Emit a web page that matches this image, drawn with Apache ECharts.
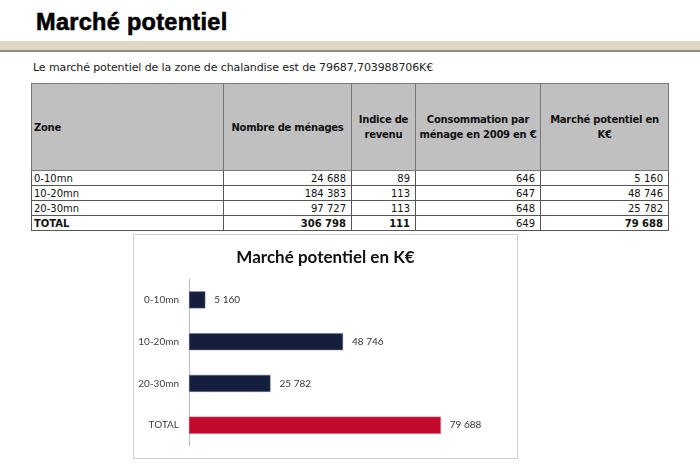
<!DOCTYPE html>
<html>
<head>
<meta charset="UTF-8">
<title>Marché potentiel</title>
<script type="text/javascript" src="https://cdn.jsdelivr.net/npm/echarts@6/dist/echarts.min.js"></script>
<style>
  body{margin:0;background:#fff;font-family:"DejaVu Sans",sans-serif;color:#111}
  #page{position:relative;width:700px;height:473px;overflow:hidden}
  #titre{position:absolute;left:36px;top:9px;font:bold 23.5px "Liberation Sans",Arial,sans-serif;color:#000;letter-spacing:0.3px;-webkit-text-stroke:0.6px #000}
  #bande{position:absolute;left:0;top:41px;width:700px;height:9px;background:#ddd7c4;border-bottom:2px solid #8a8a8a}
  #intro{position:absolute;left:33px;top:61px;font-size:11px;color:#222;letter-spacing:-0.1px}
  #tab{position:absolute;left:31px;top:83px;border-collapse:collapse;font-size:10px;border:1.5px solid #444}
  #tab th{background:#c0c0c0;font-weight:bold;height:86px;border:1px solid #777;padding:0 1px;vertical-align:middle;line-height:15px;letter-spacing:-0.25px}
  #tab td{height:14px;border:1px solid #555;padding:0 5px;line-height:13px;text-align:right}
  #tab td.z{text-align:left;padding-left:2px}
  #tab tr.tot td{font-weight:bold}
  #tab tr.tot td.nb{font-weight:normal}
  #main{position:absolute;left:133px;top:234px;width:383px;height:223px;border:1px solid #cfcfcf}
</style>
</head>
<body>
<div id="page">
  <div id="titre">Marché potentiel</div>
  <div id="bande"></div>
  <div id="intro">Le marché potentiel de la zone de chalandise est de 79687,703988706K€</div>
  <table id="tab">
    <thead><tr>
      <th style="width:188px;text-align:left;padding-left:2px">Zone</th>
      <th style="width:125px">Nombre de ménages</th>
      <th style="width:61px">Indice de revenu</th>
      <th style="width:122px">Consommation par ménage en 2009 en €</th>
      <th style="width:125px">Marché potentiel en<br>K€</th>
    </tr></thead>
    <tbody id="corps"></tbody>
  </table>
  <div id="main"></div>
</div>
<script type="text/javascript">
var zones = ['0-10mn', '10-20mn', '20-30mn', 'TOTAL'];
var menages = [24688, 184383, 97727, 306798];
var indice = [89, 113, 113, 111];
var conso = [646, 647, 648, 649];
var marche = [5160, 48746, 25782, 79688];

function fmt(v){
	return String(Math.round(v)).replace(/\B(?=(\d{3})+(?!\d))/g, ' ');
}

// le tableau
var corps = document.getElementById('corps');
for (var i = 0; i < zones.length; i++) {
	var tr = document.createElement('tr');
	if (zones[i] == 'TOTAL') tr.className = 'tot';
	tr.innerHTML = '<td class="z">' + zones[i] + '</td>' +
		'<td>' + fmt(menages[i]) + '</td>' +
		'<td>' + indice[i] + '</td>' +
		'<td class="nb">' + conso[i] + '</td>' +
		'<td>' + fmt(marche[i]) + '</td>';
	corps.appendChild(tr);
}

// le graphique
var myEcharts = echarts.init(document.getElementById('main'));
var option = {
	animation: false,
	title: {
		text: 'Marché potentiel en K€',
		left: 'center',
		top: 9,
		textStyle: {fontFamily: 'Lato', fontSize: 17, fontWeight: 'bold', color: '#111'}
	},
	grid: {left: 55, top: 44, width: 316, height: 167},
	xAxis: {type: 'value', min: 0, max: 100000, show: false},
	yAxis: {
		type: 'category',
		inverse: true,
		data: zones,
		axisLine: {lineStyle: {color: '#bdbdbd', width: 1}},
		axisTick: {show: false},
		axisLabel: {fontFamily: 'Lato', fontSize: 10, color: '#404040', margin: 10}
	},
	series: [{
		type: 'bar',
		barWidth: 17,
		data: marche.map(function(v, i){
			return {
				value: v,
				itemStyle: zones[i] == 'TOTAL'
					? {color: '#c3082e', borderColor: '#f04a5a', borderWidth: 0.5}
					: {color: '#151f3d', borderColor: '#6a7390', borderWidth: 0.5}
			};
		}),
		label: {
			show: true,
			position: 'right',
			distance: 9,
			fontFamily: 'Lato',
			fontSize: 10,
			color: '#333',
			formatter: function(p){ return fmt(p.value); }
		}
	}]
};
myEcharts.setOption(option);
</script>
</body>
</html>
